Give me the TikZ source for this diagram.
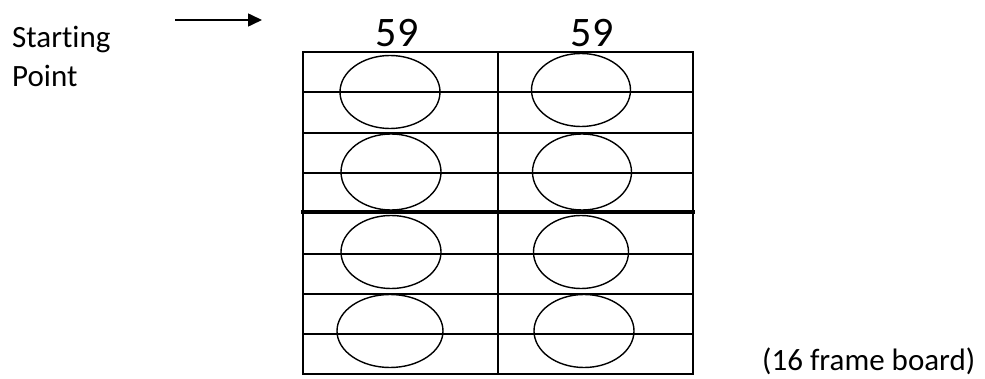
\documentclass[tikz,border=0pt]{standalone}
\usepackage{fontspec}
\setmainfont{Carlito}[Ligatures=NoCommon]
\usetikzlibrary{shapes.geometric, arrows.meta, positioning}

\begin{document}
\begin{tikzpicture}[x=1pt,y=-1pt, every node/.style={font=\fontsize{31}{39}\selectfont},
    frame/.style={line width=1.4pt},
    egg/.style={draw, ellipse, line width=1.4pt, inner sep=0pt, minimum width=100pt, minimum height=73pt}]
    \useasboundingbox (0,0) rectangle (985,379);
    % starting point and arrow
    \node[anchor=north west, align=left, inner sep=0pt] (start) at (12,26) {Starting\\Point};
    \coordinate (arrowtail) at (175,20);
    \coordinate (arrowhead) at (262,20);
    \draw[line width=1.6pt, -{Triangle[length=14pt,width=13pt]}] (arrowtail) -- (arrowhead);
    % column labels
    \node[font=\fontsize{42}{46}\selectfont, anchor=base, inner sep=0pt] (leftlabel) at (397,47) {59};
    \node[font=\fontsize{42}{46}\selectfont, anchor=base, inner sep=0pt] (rightlabel) at (592,47) {59};
    % the board
    \node[draw, frame, minimum width=390pt, minimum height=322pt, inner sep=0pt] (board) at (498,213) {};
    \draw[frame] (board.north) -- (board.south);
    \foreach \y in {92,133,173,254,294,334}
        \draw[frame] (303,\y) -- (693,\y);
    \draw[line width=4pt] (301,212) -- (695,212);
    % frames
    \node[egg] (l1) at (390,92) {};
    \node[egg, minimum height=76pt] (l2) at (391,172) {};
    \node[egg] (l3) at (391,252) {};
    \node[egg, minimum width=106pt] (l4) at (390,331) {};
    \node[egg, minimum width=99pt] (r1) at (581,90) {};
    \node[egg, minimum width=99pt, minimum height=76pt] (r2) at (582,172) {};
    \node[egg, minimum width=95pt] (r3) at (581,252) {};
    \node[egg] (r4) at (584,331) {};
    % caption
    \node[anchor=base west, inner sep=0pt] (caption) at (762,370) {(16 frame board)};
\end{tikzpicture}
\end{document}
